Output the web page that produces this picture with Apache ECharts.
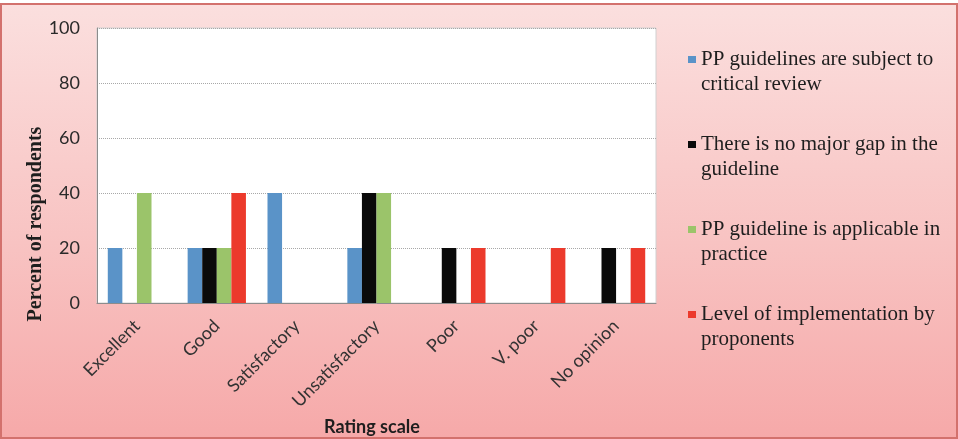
<!DOCTYPE html>
<html>
<head>
<meta charset="utf-8">
<script src="https://cdn.jsdelivr.net/npm/echarts@6/dist/echarts.min.js"></script>
<style>
html,body{margin:0;padding:0;background:#fff;}
#bg{position:absolute;left:0;top:3px;width:954px;height:432px;border:2px solid #d3716d;background:linear-gradient(to bottom,#fbdfde 0%,#f8c3c2 55%,#f6a9a9 100%);}
#chart{position:absolute;left:0;top:0;width:958px;height:439px;}
</style>
</head>
<body>
<div id="bg"></div>
<div id="chart"></div>
<script>
const categories = ["Excellent", "Good", "Satisfactory", "Unsatisfactory", "Poor", "V. poor", "No opinion"];
const seriesNames = [
  "PP guidelines are subject to\ncritical review",
  "There is no major gap in the\nguideline",
  "PP guideline is applicable in\npractice",
  "Level of implementation by\nproponents"
];
const reviewValues = [20, 20, 40, 20, 0, 0, 0];
const gapValues = [0, 20, 0, 40, 20, 0, 20];
const applicableValues = [40, 20, 0, 40, 0, 0, 0];
const implementationValues = [0, 40, 0, 0, 20, 20, 20];
const yTicks = [0, 20, 40, 60, 80, 100];
const colors = ["#5a93c8", "#0a0a0a", "#9bc46a", "#ec3a2c"];

const chart = echarts.init(document.getElementById('chart'), null, {renderer: 'canvas'});
const allValues = [reviewValues, gapValues, applicableValues, implementationValues];
chart.setOption({
  backgroundColor: 'transparent',
  animation: false,
  color: colors,
  grid: {left: 97, right: 302, top: 28, bottom: 136, show: true, backgroundColor: '#ffffff', borderColor: '#d0d0d0', borderWidth: 1, outerBoundsMode: 'none', containLabel: false},
  legend: {
    orient: 'vertical',
    left: 683,
    top: 17,
    itemWidth: 8,
    itemHeight: 7,
    itemGap: 10,
    icon: 'rect',
    formatter: function (name) { return '\n' + name; },
    textStyle: {fontFamily: 'Liberation Serif', fontSize: 21, color: '#1e1e1e', lineHeight: 25},
    data: seriesNames
  },
  xAxis: {
    type: 'category',
    data: categories,
    name: 'Rating scale',
    nameLocation: 'middle',
    nameGap: 115,
    nameMoveOverlap: false,
    nameTextStyle: {fontFamily: 'Lato', fontWeight: 'bold', fontSize: 18, color: '#1e1e1e', padding: [0, 9, 0, 0]},
    axisLine: {lineStyle: {color: '#8c8c8c', width: 1}},
    axisTick: {show: false},
    axisLabel: {rotate: 45, fontFamily: 'Lato', fontSize: 18, color: '#333', margin: 20, interval: 0}
  },
  yAxis: {
    type: 'value',
    min: 0, max: 100, interval: 20,
    name: 'Percent of respondents',
    nameLocation: 'middle',
    nameGap: 51,
    nameMoveOverlap: false,
    nameTextStyle: {fontFamily: 'Liberation Serif', fontWeight: 'bold', fontSize: 20, color: '#1e1e1e', padding: [0, 117, 0, 0]},
    axisLine: {show: true, lineStyle: {color: '#8c8c8c', width: 1}},
    axisTick: {show: false},
    axisLabel: {fontFamily: 'Lato', fontSize: 18, color: '#2a2a2a', margin: 17,
      formatter: function (v) { return yTicks.indexOf(v) >= 0 ? String(v) : ''; }},
    splitLine: {show: true, lineStyle: {color: '#a8a8a8', type: 'dotted', width: 1}}
  },
  series: seriesNames.map(function (n, i) {
    return {
      name: n,
      type: 'bar',
      data: allValues[i],
      barGap: '0%',
      barCategoryGap: '27%',
      itemStyle: {color: colors[i]}
    };
  })
});
</script>
</body>
</html>
